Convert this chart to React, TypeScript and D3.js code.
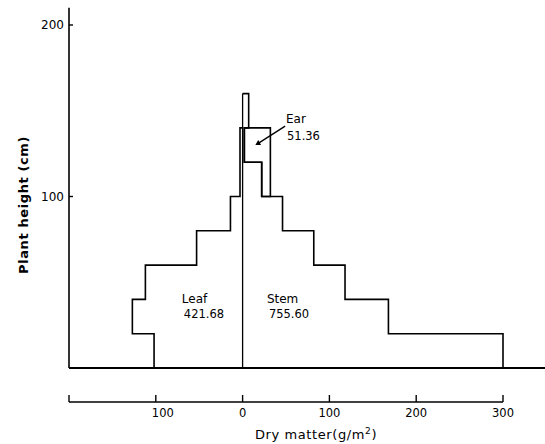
import React, { useRef, useEffect } from "react";
import * as d3 from "d3";

// layer boundaries (cm)
const layerBounds = [0, 20, 40, 60, 80, 100, 120, 140, 160];
// dry matter per layer (g/m2), bottom layer first
const leafValues = [102, 127, 112, 53, 14, 3, 3];
const stemValues = [300, 168, 118, 82, 46, 22, 2, 7];
const earValues = [0, 0, 0, 0, 0, 10, 30, 0];

const xTicks = [-200, -100, 0, 100, 200, 300];
const yTicks = [100, 200];

const labels = [
  { name: "Leaf", total: "421.68", x: -70, y: 38, gap: 15, dx: 2 },
  { name: "Stem", total: "755.60", x: 28, y: 38, gap: 15, dx: 2 },
  { name: "Ear", total: "51.36", x: 50, y: 143, gap: 17, dx: 1 },
];

const App = () => {
  const ref = useRef<SVGSVGElement>(null);

  useEffect(() => {
    const width = 545;
    const svg = d3.select(ref.current);
    svg.selectAll("*").remove();

    const x = d3.scaleLinear().domain([-200, 300]).range([69, 503]);
    const y = d3.scaleLinear().domain([0, 200]).range([368, 25]);

    const font = "'DejaVu Sans', sans-serif";

    // step outline of a profile
    const steps = (vals: number[], sign: number) => {
      const pts: [number, number][] = [];
      vals.forEach((v, i) => {
        pts.push([sign * v, layerBounds[i]]);
        pts.push([sign * v, layerBounds[i + 1]]);
      });
      pts.push([0, layerBounds[vals.length]]);
      return pts;
    };

    const line = d3
      .line<[number, number]>()
      .x((d) => x(d[0]))
      .y((d) => y(d[1]));

    const g = svg.append("g").attr("fill", "none").attr("stroke", "#000");

    // y axis
    g.append("line")
      .attr("x1", x(-200)).attr("x2", x(-200))
      .attr("y1", y(210)).attr("y2", y(0))
      .attr("stroke-width", 1.6);
    yTicks.forEach((t) => {
      g.append("line")
        .attr("x1", x(-200)).attr("x2", x(-200) + 4)
        .attr("y1", y(t)).attr("y2", y(t))
        .attr("stroke-width", 1.4);
    });

    // baseline
    g.append("line")
      .attr("x1", x(-200)).attr("x2", width)
      .attr("y1", y(0)).attr("y2", y(0))
      .attr("stroke-width", 1.8);

    // center line
    g.append("line")
      .attr("x1", x(0)).attr("x2", x(0))
      .attr("y1", y(0)).attr("y2", y(160))
      .attr("stroke-width", 1.3);

    // leaf and stem profiles
    g.append("path").attr("d", line(steps(leafValues, -1))).attr("stroke-width", 1.6);
    g.append("path").attr("d", line(steps(stemValues, 1))).attr("stroke-width", 1.6);

    // ear stacked on stem
    const earPts: [number, number][] = [];
    const earIdx = earValues.map((v, i) => (v > 0 ? i : -1)).filter((i) => i >= 0);
    earIdx.forEach((i) => {
      earPts.push([stemValues[i] + earValues[i], layerBounds[i]]);
      earPts.push([stemValues[i] + earValues[i], layerBounds[i + 1]]);
    });
    earIdx.slice().reverse().forEach((i) => {
      earPts.push([stemValues[i], layerBounds[i + 1]]);
      earPts.push([stemValues[i], layerBounds[i]]);
    });
    g.append("path").attr("d", line(earPts) + "Z").attr("stroke-width", 1.6);

    // ear arrow
    g.append("line")
      .attr("x1", x(49)).attr("y1", y(141))
      .attr("x2", x(18)).attr("y2", y(131))
      .attr("stroke-width", 1.4);
    svg.append("path")
      .attr("d", d3.symbol(d3.symbolTriangle, 14)())
      .attr("transform", `translate(${x(18)},${y(131)}) rotate(${-90 - 30})`)
      .attr("fill", "#000");

    // bottom axis
    const axisY = 402;
    g.append("line")
      .attr("x1", x(-200)).attr("x2", x(300))
      .attr("y1", axisY).attr("y2", axisY)
      .attr("stroke-width", 1.5);
    xTicks.forEach((t) => {
      g.append("line")
        .attr("x1", x(t)).attr("x2", x(t))
        .attr("y1", axisY - 7).attr("y2", axisY)
        .attr("stroke-width", 1.4);
    });

    const txt = svg.append("g").attr("font-family", font).attr("fill", "#000");

    xTicks.filter((t) => t > -200).forEach((t) => {
      txt.append("text")
        .attr("x", x(t) + (t < 0 ? 7 : 0))
        .attr("y", axisY + 15)
        .attr("text-anchor", "middle")
        .attr("font-size", 11.5)
        .text(Math.abs(t));
    });

    yTicks.forEach((t) => {
      txt.append("text")
        .attr("x", x(-200) - 5)
        .attr("y", y(t))
        .attr("dy", "0.35em")
        .attr("text-anchor", "end")
        .attr("font-size", 12)
        .text(t);
    });

    const xl = txt.append("text")
      .attr("x", 316)
      .attr("y", 439)
      .attr("text-anchor", "middle")
      .attr("font-size", 13)
      .attr("letter-spacing", 0.6);
    xl.append("tspan").text("Dry matter(g/m");
    xl.append("tspan").attr("font-size", 9).attr("dy", -5).text("2");
    xl.append("tspan").attr("dy", 5).text(")");

    txt.append("text")
      .attr("transform", `translate(28,205) rotate(-90)`)
      .attr("text-anchor", "middle")
      .attr("font-size", 13)
      .attr("font-weight", "bold")
      .attr("letter-spacing", 0.6)
      .text("Plant height (cm)");

    labels.forEach((l) => {
      txt.append("text")
        .attr("x", x(l.x)).attr("y", y(l.y))
        .attr("font-size", 12)
        .text(l.name);
      txt.append("text")
        .attr("x", x(l.x) + l.dx).attr("y", y(l.y) + l.gap)
        .attr("font-size", 11.5)
        .text(l.total);
    });
  }, []);

  return (
    <svg
      ref={ref}
      width={545}
      height={444}
      style={{ position: "absolute", left: 0, top: 0, background: "#fff" }}
    />
  );
};

export default App;
